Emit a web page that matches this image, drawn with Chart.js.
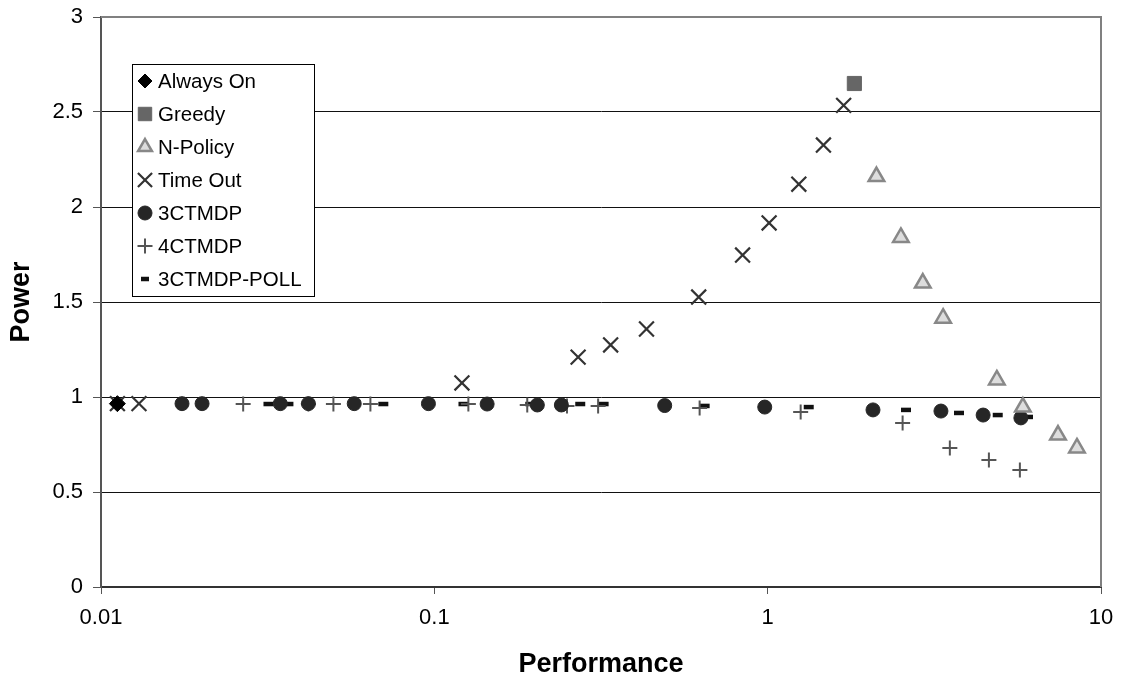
<!DOCTYPE html>
<html>
<head>
<meta charset="utf-8">
<script src="https://cdn.jsdelivr.net/npm/chart.js@4.4.1/dist/chart.umd.min.js"></script>
<style>
  html, body { margin: 0; padding: 0; background: #fff; }
  #wrap { width: 1128px; height: 683px; }
</style>
</head>
<body>
<div id="wrap"><canvas id="c" width="1128" height="683"></canvas></div>
<script>
// values (x = Performance, y = Power)
var alwaysOnX = [0.0112];
var alwaysOnY = [0.965];

var greedyX = [1.82];
var greedyY = [2.65];

var nPolicyX = [2.12, 2.51, 2.92, 3.36, 4.87, 5.83, 7.43, 8.47];
var nPolicyY = [2.16, 1.84, 1.60, 1.415, 1.09, 0.947, 0.80, 0.732];

var timeOutX = [0.0112, 0.013, 0.121, 0.27, 0.338, 0.433, 0.621, 0.841, 1.01, 1.24, 1.47, 1.69];
var timeOutY = [0.965, 0.965, 1.074, 1.21, 1.274, 1.358, 1.526, 1.747, 1.916, 2.12, 2.326, 2.535];

var ctmdp3X = [0.0175, 0.0201, 0.0345, 0.0419, 0.0575, 0.096, 0.144, 0.2037, 0.2405, 0.491, 0.98, 2.07, 3.31, 4.43, 5.75];
var ctmdp3Y = [0.965, 0.965, 0.965, 0.965, 0.965, 0.965, 0.963, 0.958, 0.958, 0.955, 0.947, 0.932, 0.926, 0.905, 0.89];

var ctmdp4X = [0.0267, 0.0419, 0.0498, 0.0643, 0.1265, 0.190, 0.25, 0.31, 0.625, 1.256, 2.54, 3.52, 4.61, 5.71];
var ctmdp4Y = [0.963, 0.963, 0.963, 0.963, 0.963, 0.958, 0.953, 0.953, 0.942, 0.921, 0.863, 0.732, 0.668, 0.616];

var pollX = [0.0318, 0.0365, 0.0703, 0.1223, 0.194, 0.274, 0.322, 0.647, 1.328, 2.6, 3.75, 4.9, 6.04];
var pollY = [0.963, 0.963, 0.963, 0.963, 0.963, 0.963, 0.963, 0.953, 0.947, 0.932, 0.916, 0.905, 0.895];

var xTicks = [0.01, 0.1, 1, 10];
var yTicks = [0, 0.5, 1, 1.5, 2, 2.5, 3];

var FONT = "'Liberation Sans', Arial, sans-serif";

function pts(xs, ys) {
  return xs.map(function (x, i) { return { x: x, y: ys[i] }; });
}

var datasets = [
  { label: "Always On", data: pts(alwaysOnX, alwaysOnY), pointStyle: "rectRot", pointRadius: 8, backgroundColor: "#000", borderColor: "#000", borderWidth: 1 },
  { label: "Greedy", data: pts(greedyX, greedyY), pointStyle: "rect", pointRadius: 10, backgroundColor: "#666", borderColor: "#666", borderWidth: 1 },
  { label: "N-Policy", data: pts(nPolicyX, nPolicyY), pointStyle: "triangle", pointRadius: 9, backgroundColor: "#ddd", borderColor: "#888", borderWidth: 2.5 },
  { label: "Time Out", data: pts(timeOutX, timeOutY), pointStyle: "crossRot", pointRadius: 10.5, backgroundColor: "#333", borderColor: "#333", borderWidth: 2.2 },
  { label: "3CTMDP", data: pts(ctmdp3X, ctmdp3Y), pointStyle: "circle", pointRadius: 7, backgroundColor: "#262626", borderColor: "#262626", borderWidth: 1 },
  { label: "4CTMDP", data: pts(ctmdp4X, ctmdp4Y), pointStyle: "cross", pointRadius: 7.5, backgroundColor: "#555", borderColor: "#555", borderWidth: 2 },
  { label: "3CTMDP-POLL", data: pts(pollX, pollY), pointStyle: "line", pointRadius: 5, backgroundColor: "#111", borderColor: "#111", borderWidth: 4.5 }
];
datasets.forEach(function (d) { d.pointHoverRadius = d.pointRadius; d.showLine = false; });

// legend size per marker style (drawn a little smaller than plot marks)
var legendRadius = { rectRot: 7, rect: 9.5, triangle: 8, crossRot: 10, circle: 7, cross: 7.5, line: 4 };

// gray frame on top/right + legend box inside plot area
var frameAndLegend = {
  id: "frameAndLegend",
  afterDraw: function (chart) {
    var ctx = chart.ctx, a = chart.chartArea;
    ctx.save();
    ctx.strokeStyle = "#808080";
    ctx.lineWidth = 2;
    ctx.beginPath();
    ctx.moveTo(a.left, a.top); ctx.lineTo(a.right, a.top); ctx.lineTo(a.right, a.bottom);
    ctx.stroke();

    var bx = 132.5, by = 64.5, bw = 182, bh = 232;
    ctx.fillStyle = "#fff";
    ctx.fillRect(bx, by, bw, bh);
    ctx.strokeStyle = "#000";
    ctx.lineWidth = 1;
    ctx.strokeRect(bx, by, bw, bh);

    ctx.font = "20.5px " + FONT;
    ctx.textBaseline = "middle";
    chart.data.datasets.forEach(function (d, i) {
      var y = 81 + i * 33;
      ctx.fillStyle = d.backgroundColor;
      ctx.strokeStyle = d.borderColor;
      ctx.lineWidth = d.borderWidth;
      Chart.helpers.drawPoint(ctx, { pointStyle: d.pointStyle, radius: legendRadius[d.pointStyle], rotation: 0, borderWidth: d.borderWidth }, 145, y);
      ctx.fillStyle = "#000";
      ctx.fillText(d.label, 158, y + 1);
    });
    ctx.restore();
  }
};

new Chart(document.getElementById("c"), {
  type: "scatter",
  data: { datasets: datasets },
  plugins: [frameAndLegend],
  options: {
    responsive: false,
    animation: false,
    layout: { padding: { top: 17, right: 27, left: 0, bottom: 0 } },
    plugins: { legend: { display: false }, tooltip: { enabled: false } },
    scales: {
      x: {
        type: "logarithmic",
        min: 0.01, max: 10,
        afterBuildTicks: function (s) { s.ticks = xTicks.map(function (v) { return { value: v }; }); },
        afterFit: function (s) { s.height = 96; s.paddingLeft = 0; s.paddingRight = 0; },
        ticks: {
          color: "#000", padding: 11, maxRotation: 0, autoSkip: false,
          font: { family: FONT, size: 22 },
          callback: function (v) { return String(v); }
        },
        grid: { drawOnChartArea: false, color: "#555", tickLength: 7, lineWidth: 1 },
        border: { color: "#333", width: 2 },
        title: {
          display: true, text: "Performance", color: "#000", padding: { top: 0, bottom: 2 },
          font: { family: FONT, size: 27, weight: "bold" }
        }
      },
      y: {
        min: 0, max: 3,
        afterBuildTicks: function (s) { s.ticks = yTicks.map(function (v) { return { value: v }; }); },
        afterFit: function (s) { s.width = 101; s.paddingTop = 0; s.paddingBottom = 0; },
        ticks: {
          color: "#000", padding: 10,
          font: { family: FONT, size: 22 },
          callback: function (v) { return String(v); }
        },
        grid: {
          color: function (c) { return c.tick && c.tick.value === 3 ? "#808080" : "#111"; },
          tickColor: "#555", tickLength: 8, lineWidth: 1
        },
        border: { color: "#555", width: 2 },
        title: {
          display: true, text: "Power", color: "#000", padding: { top: 5, bottom: 0 },
          font: { family: FONT, size: 27, weight: "bold" }
        }
      }
    }
  }
});
</script>
</body>
</html>
